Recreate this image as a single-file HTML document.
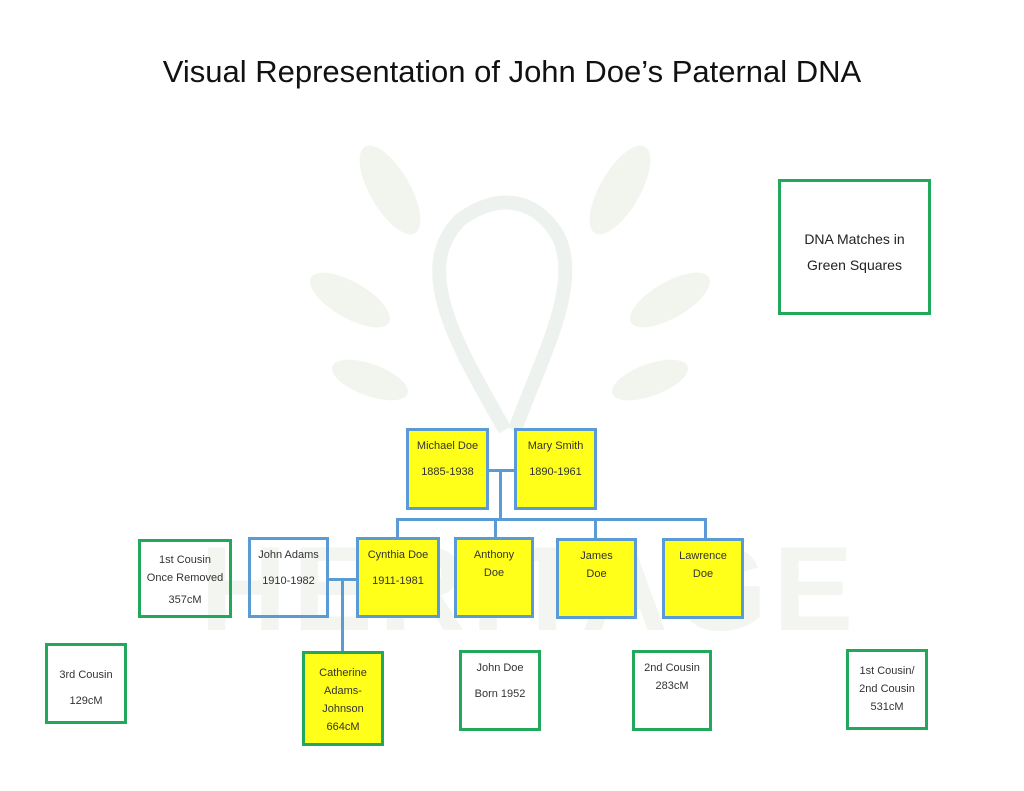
<!DOCTYPE html>
<html><head><meta charset="utf-8"><style>
body{margin:0;width:1024px;height:791px;background:#fff;position:relative;overflow:hidden;font-family:"Liberation Sans",sans-serif;}
.t{position:absolute;left:0;width:1024px;top:54px;text-align:center;font-size:31px;color:#111;}
.b{position:absolute;box-sizing:border-box;border:3px solid #5b9bd5;text-align:center;font-size:11px;color:#333;line-height:18px;padding-top:6px;}
.y{background:#ffff1a;}
.g{border-color:#22a85a;}
.l{position:absolute;background:#5b9bd5;}
.wm{position:absolute;left:200px;top:520px;font-size:120px;font-weight:bold;color:#f2f5f0;letter-spacing:6px;}
</style></head><body>
<div class="wm">HERITAGE</div>
<svg style="position:absolute;left:290px;top:130px" width="450" height="330">
<g fill="#f1f5ee"><ellipse cx="100" cy="60" rx="20" ry="50" transform="rotate(-30 100 60)"/><ellipse cx="330" cy="60" rx="20" ry="50" transform="rotate(30 330 60)"/><ellipse cx="60" cy="170" rx="18" ry="45" transform="rotate(-60 60 170)"/><ellipse cx="380" cy="170" rx="18" ry="45" transform="rotate(60 380 170)"/><ellipse cx="80" cy="250" rx="16" ry="40" transform="rotate(-70 80 250)"/><ellipse cx="360" cy="250" rx="16" ry="40" transform="rotate(70 360 250)"/></g>
<path d="M215 300 C170 220 120 140 170 90 C210 60 250 70 270 110 C290 160 250 230 225 300" fill="none" stroke="#eef2ee" stroke-width="14"/>
</svg>
<div class="t">Visual Representation of John Doe’s Paternal DNA</div>

<div class="b g" style="left:778px;top:179px;width:153px;height:136px;font-size:14px;line-height:26px;padding-top:44px;color:#222">DNA Matches in<br>Green Squares</div>

<div class="l" style="left:488px;top:469px;width:26px;height:3px"></div>
<div class="l" style="left:499px;top:469px;width:3px;height:52px"></div>
<div class="l" style="left:396px;top:518px;width:311px;height:3px"></div>
<div class="l" style="left:396px;top:518px;width:3px;height:20px"></div>
<div class="l" style="left:494px;top:518px;width:3px;height:20px"></div>
<div class="l" style="left:594px;top:518px;width:3px;height:20px"></div>
<div class="l" style="left:704px;top:518px;width:3px;height:20px"></div>
<div class="l" style="left:328px;top:578px;width:28px;height:3px"></div>
<div class="l" style="left:341px;top:578px;width:3px;height:74px"></div>

<div class="b y" style="left:406px;top:428px;width:83px;height:82px">Michael Doe<br><div style="height:8px"></div>1885-1938</div>
<div class="b y" style="left:514px;top:428px;width:83px;height:82px">Mary Smith<br><div style="height:8px"></div>1890-1961</div>

<div class="b" style="left:248px;top:537px;width:81px;height:81px">John Adams<br><div style="height:8px"></div>1910-1982</div>
<div class="b y" style="left:356px;top:537px;width:84px;height:81px">Cynthia Doe<br><div style="height:8px"></div>1911-1981</div>
<div class="b y" style="left:454px;top:537px;width:80px;height:81px">Anthony<br>Doe</div>
<div class="b y" style="left:556px;top:538px;width:81px;height:81px">James<br>Doe</div>
<div class="b y" style="left:662px;top:538px;width:82px;height:81px">Lawrence<br>Doe</div>

<div class="b g" style="left:138px;top:539px;width:94px;height:79px;padding-top:9px">1st Cousin<br>Once Removed<br><div style="height:4px"></div>357cM</div>
<div class="b g" style="left:45px;top:643px;width:82px;height:81px;padding-top:20px">3rd Cousin<br><div style="height:8px"></div>129cM</div>
<div class="b g y" style="left:302px;top:651px;width:82px;height:95px;padding-top:10px">Catherine<br>Adams-<br>Johnson<br>664cM</div>
<div class="b g" style="left:459px;top:650px;width:82px;height:81px">John Doe<br><div style="height:8px"></div>Born 1952</div>
<div class="b g" style="left:632px;top:650px;width:80px;height:81px">2nd Cousin<br>283cM</div>
<div class="b g" style="left:846px;top:649px;width:82px;height:81px;padding-top:10px">1st Cousin/<br>2nd Cousin<br>531cM</div>
</body></html>
